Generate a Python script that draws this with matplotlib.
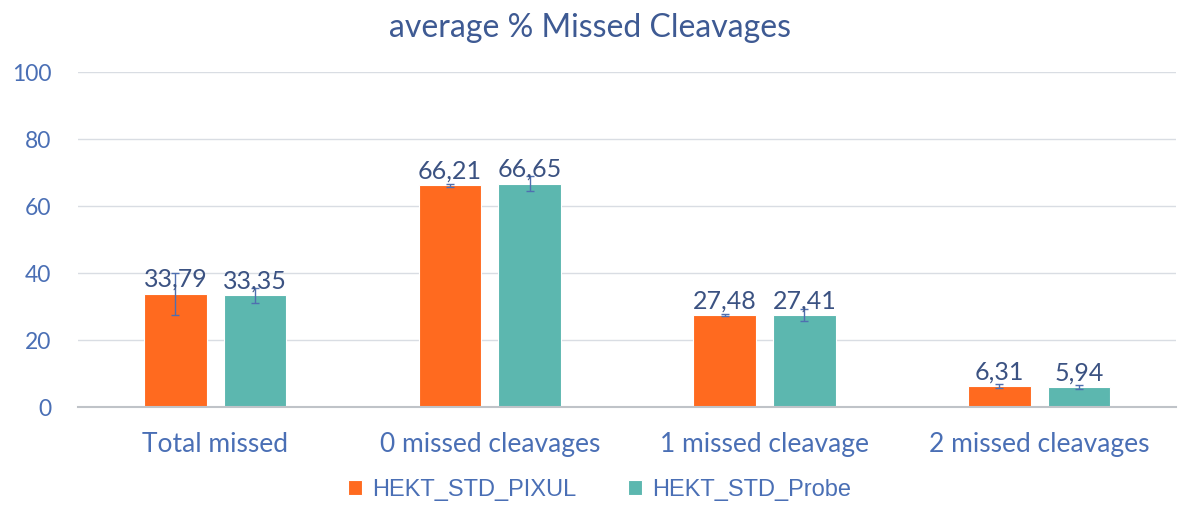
import numpy as np
import matplotlib
matplotlib.use("Agg")
import matplotlib.pyplot as plt

categories = ["Total missed", "0 missed cleavages", "1 missed cleavage", "2 missed cleavages"]
series = ["HEKT_STD_PIXUL", "HEKT_STD_Probe"]
pixul = [33.79, 66.21, 27.48, 6.31]
probe = [33.35, 66.65, 27.41, 5.94]
pixul_err = [6.2, 0.5, 0.4, 0.6]
probe_err = [2.2, 2.3, 1.7, 0.5]

ORANGE = "#FF6A1F"
TEAL = "#5CB7AF"
TXT = "#3E5A93"
TICK = "#4A6FB5"

plt.rcParams["font.family"] = ["Lato", "DejaVu Sans"]

fig = plt.figure(figsize=(11.8, 5.2), dpi=100)
ax = fig.add_axes([0.066, 0.2173, 0.931, 0.6442])

x = np.arange(len(categories))
w = 0.228
off = (w + 0.062) / 2
for vals, errs, col, name, sgn in [(pixul, pixul_err, ORANGE, series[0], -1),
                                   (probe, probe_err, TEAL, series[1], 1)]:
    bars = ax.bar(x + sgn * off, vals, w, color=col, edgecolor="white", linewidth=0.8,
                  label=name, zorder=2)
    ax.errorbar(x + sgn * off, vals, yerr=errs, fmt="none", ecolor="#4F6FB0",
                elinewidth=1.0, capsize=3, capthick=1.0, zorder=3)
    for b, v in zip(bars, vals):
        ax.annotate(f"{v:.2f}".replace(".", ","), (b.get_x() + b.get_width() / 2, v),
                    xytext=(0, 2), textcoords="offset points", ha="center", va="bottom",
                    fontsize=18, color="#3B5282", zorder=4)

ax.set_xlim(-0.5, len(categories) - 0.5)
ax.set_ylim(0, 100)
ax.set_yticks(range(0, 101, 20))
ax.yaxis.grid(True, color="#D9DDE3", linewidth=1.0, zorder=0)
ax.set_axisbelow(True)
for s in ["top", "right", "left"]:
    ax.spines[s].set_visible(False)
ax.spines["bottom"].set_color("#BFC3C8")
ax.spines["bottom"].set_linewidth(1.5)
ax.tick_params(axis="y", length=0, colors=TICK, labelsize=16.5, pad=19)
ax.tick_params(axis="x", length=0, colors=TICK, labelsize=19, pad=18)
ax.set_xticks(x)
ax.set_xticklabels(categories)

fig.suptitle("average % Missed Cleavages", y=0.975, fontsize=23, color=TXT)

leg = fig.legend(loc="center", bbox_to_anchor=(0.508, 0.058), ncol=2, frameon=False,
                 prop={"family": "Liberation Sans", "size": 17}, handlelength=0.6,
                 handleheight=0.6, handletextpad=0.4, columnspacing=2.2)
for t in leg.get_texts():
    t.set_color(TICK)

fig.savefig("out.png", dpi=100)
